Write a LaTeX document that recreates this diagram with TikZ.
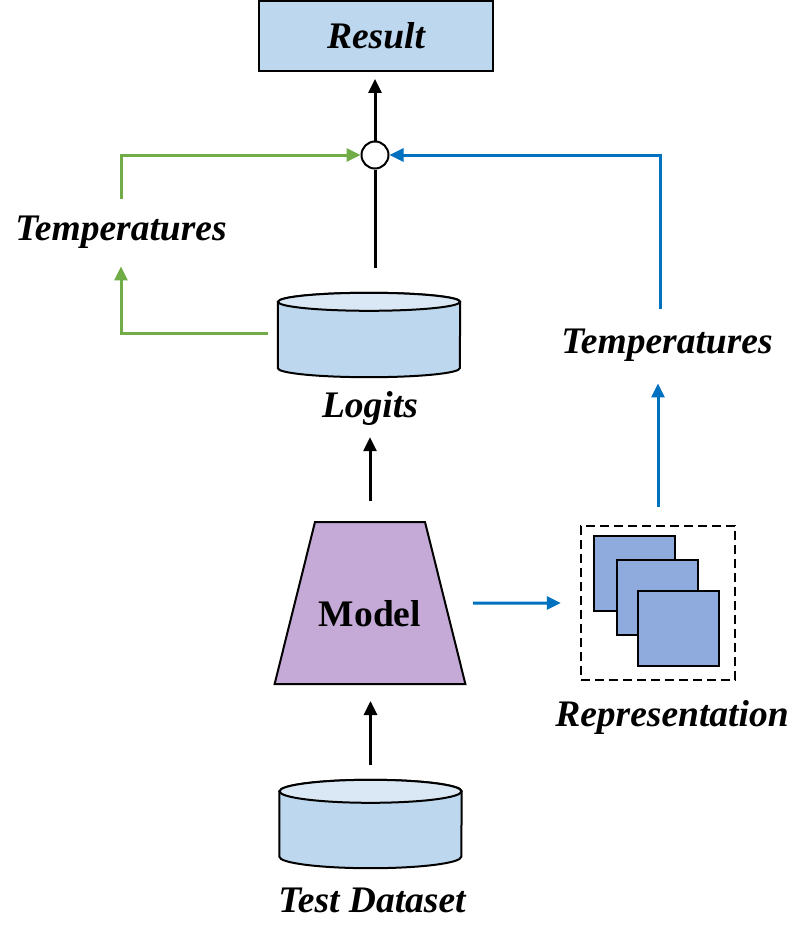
\documentclass[tikz,border=0pt]{standalone}
\usepackage{fontspec}
\setmainfont{Liberation Serif}
\usetikzlibrary{shapes.geometric,arrows.meta}
\definecolor{dbfill}{HTML}{BDD7EE}
\definecolor{dbtop}{HTML}{DAE8F5}
\definecolor{modelfill}{HTML}{C5AAD8}
\definecolor{repfill}{HTML}{8FAADC}
\definecolor{tgreen}{HTML}{70AD47}
\definecolor{tblue}{HTML}{0070C0}
\newcommand{\bigfont}{\fontsize{37.5}{42}\selectfont}
\newcommand{\dbcyl}[2]{%
  \draw[line width=2pt, fill=dbfill] ([yshift=-#2pt]#1.north west) -- ([yshift=#2pt]#1.south west)
    arc[start angle=180, end angle=360, x radius=91pt, y radius=#2pt]
    -- ([yshift=-#2pt]#1.north east)
    arc[start angle=0, end angle=180, x radius=91pt, y radius=#2pt] -- cycle;
  \draw[line width=2pt, fill=dbtop] ([yshift=-#2pt]#1.north) ellipse[x radius=91pt, y radius=#2pt];}

\begin{document}
\begin{tikzpicture}[x=1pt,y=-1pt,
  lbl/.style={inner sep=0pt, font=\bigfont\bfseries\itshape},
  db/.style={minimum width=182, inner sep=0pt},
  arr/.style={line width=3pt, -{Triangle[length=14pt,width=13pt]}},
  sheet/.style={draw, line width=2pt, fill=repfill, minimum width=81, minimum height=75, inner sep=0pt}]
\useasboundingbox (0,0) rectangle (805,931);
\node[draw, line width=2pt, fill=dbfill, minimum width=234, minimum height=70, lbl] (result) at (376,36) {Result};
\node[circle, draw, line width=2pt, fill=white, minimum size=27, inner sep=0pt] (mix) at (375,155) {};
\node[db, minimum height=84] (logits) at (369,335) {};
\dbcyl{logits}{9}
\node[lbl] (logitslbl) at (370,408) {Logits};
\node[lbl] (templ) at (121,232) {Temperatures};
\node[lbl] (tempr) at (667,345) {Temperatures};
\node[trapezium, trapezium angle=76, draw, line width=2pt, fill=modelfill, inner sep=0pt, text width=110pt, align=center, text height=104.5pt, text depth=57.5pt, font=\bigfont\bfseries] (model) at (370,603) {Model};
\node[draw, dash pattern=on 9pt off 5pt, line width=2.5pt, minimum size=154, inner sep=0pt] (rep) at (658,603) {};
\node[sheet] (sheet1) at (634,573.5) {};
\node[sheet] (sheet2) at (657.5,597) {};
\node[sheet] (sheet3) at (678.5,628) {};
\node[lbl] (replbl) at (672,717) {Representation};
\node[db, minimum height=88] (test) at (370.5,824) {};
\dbcyl{test}{11.5}
\node[lbl] (testlbl) at (372,900) {Test Dataset};

\draw[arr, shorten >=7] (mix.north) -- (mix.north |- result.south);
\draw[line width=3pt, shorten >=25] (mix.south) -- (mix.south |- logits.north);
\draw[arr, tgreen, shorten <=10, shorten >=18] ([yshift=2]logits.west) -| (templ.south);
\draw[arr, tgreen, shorten <=17] (templ.north) |- (mix.west);
\draw[arr, tblue, shorten <=20] ([xshift=-7]tempr.north) |- (mix.east);
\draw[arr, tblue, shorten <=18, shorten >=22] (rep.north) -- (rep.north |- tempr.south);
\draw[arr, tblue, shorten <=27, shorten >=19] (model.east) -- (rep.west);
\draw[arr, shorten <=20, shorten >=12] (model.north) -- (logitslbl.south);
\draw[arr, shorten <=15, shorten >=16] (test.north) -- (test.north |- model.south);
\end{tikzpicture}
\end{document}
